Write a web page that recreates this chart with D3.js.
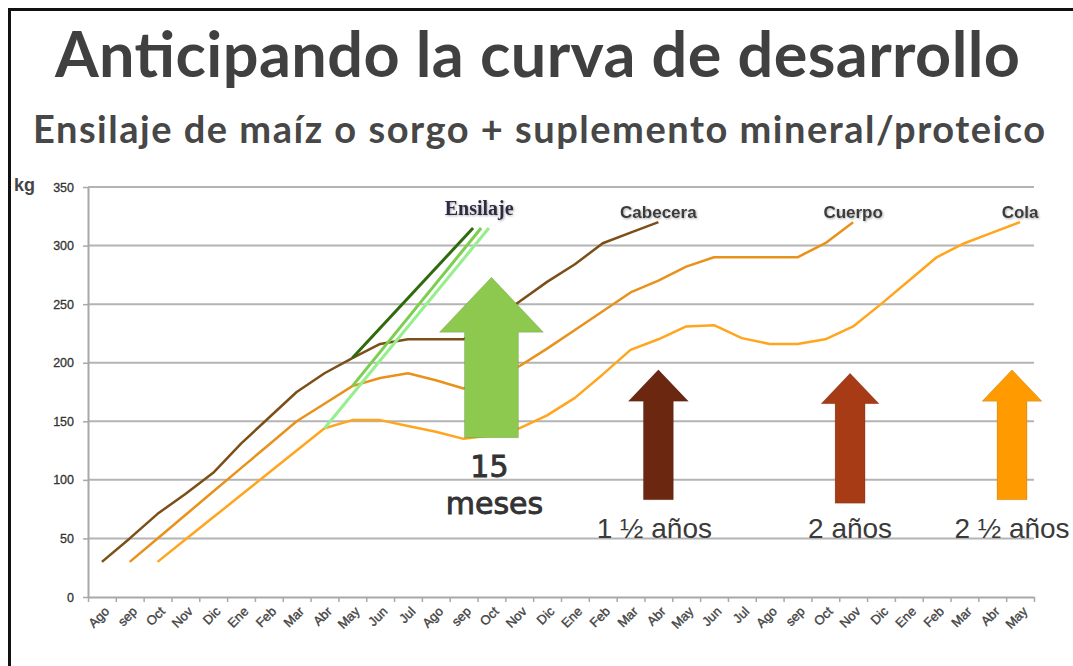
<!DOCTYPE html>
<html>
<head>
<meta charset="utf-8">
<script src="https://cdn.jsdelivr.net/npm/d3@7"></script>
<style>
  body { margin: 0; background: #fff; }
  svg { display: block; }
</style>
</head>
<body>
<div id="viz"></div>
<script>
const meses = ['Ago', 'sep', 'Oct', 'Nov', 'Dic', 'Ene', 'Feb', 'Mar', 'Abr', 'May', 'Jun', 'Jul',
  'Ago', 'sep', 'Oct', 'Nov', 'Dic', 'Ene', 'Feb', 'Mar', 'Abr', 'May', 'Jun', 'Jul',
  'Ago', 'sep', 'Oct', 'Nov', 'Dic', 'Ene', 'Feb', 'Mar', 'Abr', 'May'];

const kgTicks = [0, 50, 100, 150, 200, 250, 300, 350];

// peso (kg) por mes, null = sin dato
const cabecera = [30, 50, 71, 88, 106, 131, 153, 175, 191, 204, 216, 220, 220, 220, 236, 252, 269, 284, 302, 311, 320];
const cuerpo = [null, 30, 50, 70, 90, 110, 130, 150, 165, 180, 187, 191, 185, 178, 186, 197, 212, 228, 244, 260, 270,
  282, 290, 290, 290, 290, 302, 320];
const cola = [null, null, 30, 49, 68, 87, 106, 125, 144, 151, 151, 146, 141, 135, 138, 144, 155, 170, 190, 211, 220,
  231, 232, 221, 216, 216, 220, 231, 250, 270, 290, 302, 311, 320];

// rectas de ensilaje: [mes, kg]
const ensilajeOscuro = [[9, 204], [13.34, 315]];
const ensilajeMedio = [[9, 180], [13.63, 315]];
const ensilajeClaro = [[8, 144], [13.91, 315]];

// flechas: mes, kg base, kg cuello, kg punta
const flechaMes = [14, 20, 26.89, 32.71];
const flechaBase = [136, 83, 80, 83];
const flechaCuello = [226, 167, 165, 167];
const flechaPunta = [273, 194, 191, 194];
const flechaTexto = ['15 meses', '1 ½ años', '2 años', '2 ½ años'];

const width = 1073;
const height = 666;

const svg = d3.select('#viz')
  .append('svg')
  .attr('width', width)
  .attr('height', height);

const defs = svg.append('defs');
defs.append('filter')
  .attr('id', 'sombra')
  .attr('x', '-10%').attr('y', '-30%').attr('width', '130%').attr('height', '160%')
  .append('feDropShadow')
  .attr('dx', 1).attr('dy', 1).attr('stdDeviation', 0.8)
  .attr('flood-color', '#8a8a8a').attr('flood-opacity', 0.7);

const x = d3.scaleLinear().domain([-0.5, meses.length - 0.5]).range([88, 1034]);
const y = d3.scaleLinear().domain([0, 350]).range([597, 187]);

// marco
svg.append('path')
  .attr('d', `M9.5,${height} V9.5 H${width}`)
  .attr('fill', 'none')
  .attr('stroke', '#111')
  .attr('stroke-width', 3);

// titulos: alto de letra fijo, ancho ajustado con espaciado
svg.append('text')
  .attr('x', 537.5)
  .attr('y', 77)
  .attr('text-anchor', 'middle')
  .attr('textLength', 965)
  .attr('lengthAdjust', 'spacing')
  .style('font-family', 'Lato, "Open Sans", sans-serif')
  .style('font-weight', 700)
  .style('font-size', '63px')
  .attr('fill', '#404040')
  .text('Anticipando la curva de desarrollo');

svg.append('text')
  .attr('x', 539)
  .attr('y', 143)
  .attr('text-anchor', 'middle')
  .attr('textLength', 1012)
  .attr('lengthAdjust', 'spacing')
  .style('font-family', 'Lato, "Open Sans", sans-serif')
  .style('font-weight', 700)
  .style('font-size', '38px')
  .attr('fill', '#474747')
  .text('Ensilaje de maíz o sorgo + suplemento mineral/proteico');

// grilla
svg.append('g')
  .selectAll('line')
  .data(kgTicks.slice(1))
  .join('line')
  .attr('x1', x.range()[0])
  .attr('x2', x.range()[1])
  .attr('y1', d => y(d))
  .attr('y2', d => y(d))
  .attr('stroke', '#b4b4b4')
  .attr('stroke-width', 2);

const yAxis = svg.append('g')
  .attr('transform', `translate(${x.range()[0]},0)`)
  .call(d3.axisLeft(y).tickValues(kgTicks).tickSize(5).tickSizeOuter(0).tickPadding(9));

const xAxis = svg.append('g')
  .attr('transform', `translate(0,${y(0)})`)
  .call(d3.axisBottom(x)
    .tickValues(d3.range(meses.length + 1).map(i => i - 0.5))
    .tickSize(5)
    .tickSizeOuter(0)
    .tickFormat(''));

[yAxis, xAxis].forEach((ax) => {
  ax.select('.domain').attr('stroke', '#a8a8a8').attr('stroke-width', 2);
  ax.selectAll('.tick line').attr('stroke', '#a8a8a8').attr('stroke-width', 1.5);
});

yAxis.selectAll('.tick text')
  .style('font-family', '"Liberation Sans", Arial, sans-serif')
  .style('font-size', '12.5px')
  .attr('fill', '#333')
  .attr('stroke', '#333')
  .attr('stroke-width', 0.3);

svg.append('text')
  .attr('x', 14)
  .attr('y', 191)
  .style('font-family', '"Liberation Sans", Arial, sans-serif')
  .style('font-weight', 700)
  .style('font-size', '18px')
  .attr('fill', '#454545')
  .text('kg');

svg.append('g')
  .selectAll('text')
  .data(meses)
  .join('text')
  .attr('transform', (d, i) => `translate(${x(i) + 5},${y(0) + 12}) rotate(-45)`)
  .attr('text-anchor', 'end')
  .attr('dy', '0.35em')
  .style('font-family', '"Liberation Sans", Arial, sans-serif')
  .style('font-size', '13px')
  .attr('fill', '#444')
  .attr('stroke', '#444')
  .attr('stroke-width', 0.35)
  .text(d => d);

// series
const series = [
  { name: 'Cabecera', values: cabecera, color: '#7b4f17' },
  { name: 'Cuerpo', values: cuerpo, color: '#e8921c' },
  { name: 'Cola', values: cola, color: '#ffa51e' },
];

const line = d3.line()
  .defined(d => d != null)
  .x((d, i) => x(i))
  .y(d => y(d));

svg.append('g')
  .selectAll('path')
  .data(series)
  .join('path')
  .attr('d', d => line(d.values))
  .attr('fill', 'none')
  .attr('stroke', d => d.color)
  .attr('stroke-width', 2.5)
  .attr('stroke-linejoin', 'round');

const recta = d3.line()
  .x(d => x(d[0]))
  .y(d => y(d[1]));

svg.append('g')
  .selectAll('path')
  .data([
    { pts: ensilajeClaro, color: '#94ef8c' },
    { pts: ensilajeMedio, color: '#7ccf4e' },
    { pts: ensilajeOscuro, color: '#2f6b0c' },
  ])
  .join('path')
  .attr('d', d => recta(d.pts))
  .attr('fill', 'none')
  .attr('stroke', d => d.color)
  .attr('stroke-width', 3);

// flechas
const flechaColor = ['#8dc94e', '#6b2710', '#a63b16', '#ff9a00'];
const flechaAncho = [[52, 27], [30, 15], [29, 15], [30, 15]];

const flecha = (i) => {
  const cx = x(flechaMes[i]);
  const [head, shaft] = flechaAncho[i];
  const yTip = y(flechaPunta[i]);
  const yNeck = y(flechaCuello[i]);
  const yBase = y(flechaBase[i]);
  return `M${cx},${yTip} L${cx + head},${yNeck} L${cx + shaft},${yNeck} L${cx + shaft},${yBase}`
    + ` L${cx - shaft},${yBase} L${cx - shaft},${yNeck} L${cx - head},${yNeck} Z`;
};

svg.append('g')
  .selectAll('path')
  .data(flechaMes)
  .join('path')
  .attr('d', (d, i) => flecha(i))
  .attr('fill', (d, i) => flechaColor[i])
  .attr('stroke', 'rgba(0,0,0,0.12)')
  .attr('stroke-width', 1);

// textos de las flechas
const meses15 = flechaTexto[0].split(' ');
svg.append('g')
  .selectAll('text')
  .data(meses15)
  .join('text')
  .attr('x', (d, i) => x(flechaMes[0]) + (i === 0 ? -2 : 3))
  .attr('y', (d, i) => y(flechaBase[0]) + (i === 0 ? 39 : 76))
  .attr('text-anchor', 'middle')
  .style('font-family', '"DejaVu Sans", Verdana, sans-serif')
  .style('font-size', '30px')
  .attr('fill', '#333')
  .attr('stroke', '#333')
  .attr('stroke-width', 0.9)
  .text(d => d);

svg.append('g')
  .selectAll('text')
  .data(flechaTexto.slice(1))
  .join('text')
  .attr('x', (d, i) => x(flechaMes[i + 1]) - (i === 0 ? 4 : 0))
  .attr('y', y(50))
  .attr('text-anchor', 'middle')
  .style('font-family', '"Liberation Sans", Arial, sans-serif')
  .style('font-size', '28px')
  .attr('fill', '#3a3a3a')
  .text(d => d);

// etiquetas de series
const ultimo = vals => d3.max(vals.map((v, i) => (v == null ? -1 : i)));

svg.append('g')
  .selectAll('text')
  .data(series)
  .join('text')
  .attr('x', d => x(ultimo(d.values)))
  .attr('y', d => y(d.values[ultimo(d.values)]) - 4)
  .attr('text-anchor', 'middle')
  .attr('filter', 'url(#sombra)')
  .style('font-family', '"Liberation Sans", Arial, sans-serif')
  .style('font-weight', 700)
  .style('font-size', '17px')
  .attr('fill', '#3b3b3b')
  .text(d => d.name);

svg.append('text')
  .attr('x', x(ensilajeMedio[1][0]) - 2)
  .attr('y', y(ensilajeMedio[1][1]) - 13)
  .attr('text-anchor', 'middle')
  .attr('filter', 'url(#sombra)')
  .style('font-family', '"Liberation Serif", "Times New Roman", serif')
  .style('font-weight', 700)
  .style('font-size', '20px')
  .attr('fill', '#2d2a44')
  .text('Ensilaje');
</script>
</body>
</html>
